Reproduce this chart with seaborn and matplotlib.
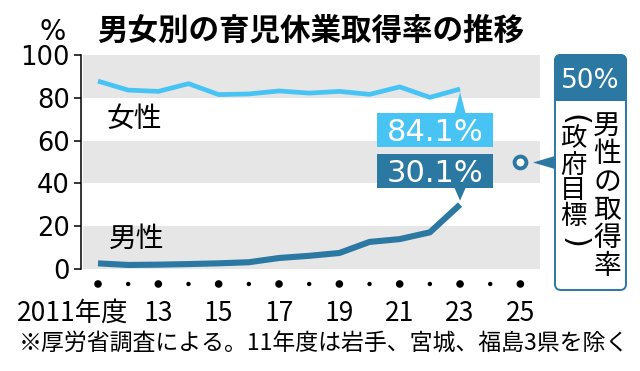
import matplotlib
matplotlib.use("Agg")
import matplotlib.pyplot as plt
import matplotlib.transforms as mtransforms
from matplotlib.patches import Rectangle, Polygon, FancyBboxPatch
import seaborn as sns
import pandas as pd

# ---- data ----
years = [2011, 2012, 2013, 2014, 2015, 2016, 2017, 2018, 2019, 2020, 2021, 2022, 2023]
female = [87.8, 83.6, 83.0, 86.6, 81.5, 81.8, 83.2, 82.2, 83.0, 81.6, 85.1, 80.2, 84.1]
male = [2.63, 1.89, 2.03, 2.30, 2.65, 3.16, 5.14, 6.16, 7.48, 12.65, 13.97, 17.13, 30.1]
goal_year = [2025]
goal_value = [50]
dot_years = list(range(2011, 2026))
xtick_years = [2011, 2013, 2015, 2017, 2019, 2021, 2023, 2025]
xtick_labels = ["2011年度", "13", "15", "17", "19", "21", "23", "25"]
yticks = [0, 20, 40, 60, 80, 100]
title = "男女別の育児休業取得率の推移"
footer = "※厚労省調査による。11年度は岩手、宮城、福島3県を除く"
female_label = "女性"
male_label = "男性"
goal_text = "50%"
goal_col1 = "男性の取得率"
goal_col2 = ["政", "府", "目", "標"]

LIGHT = "#48c4f4"
DARK = "#2b78a3"
GRAY = "#e6e6e6"

sns.set_style("white")
plt.rcParams["font.family"] = ["Noto Sans CJK JP", "DejaVu Sans"]

W, H = 640, 371
fig = plt.figure(figsize=(6.4, 3.71), dpi=100)
# reference-pixel transform (y down)
T = mtransforms.Affine2D().scale(1 / W, -1 / H).translate(0, 1) + fig.transFigure

ax = fig.add_axes([83 / W, 1 - 269 / H, (540 - 83) / W, (269 - 55) / H])
for lo, hi in [(0, 20), (40, 60), (80, 100)]:
    ax.axhspan(lo, hi, color=GRAY, lw=0, zorder=0)

df = pd.DataFrame({"year": years, "female": female, "male": male})
sns.lineplot(data=df, x="year", y="female", ax=ax, color=LIGHT, lw=3.4,
             solid_capstyle="butt", zorder=3)
sns.lineplot(data=df, x="year", y="male", ax=ax, color=DARK, lw=4.4,
             solid_capstyle="butt", zorder=3)

ax.set_xlim(2010.503, 2025.65)
ax.set_ylim(0, 100)
ax.set_xlabel("")
ax.set_ylabel("")
ax.set_xticks([])
ax.set_yticks(yticks)
for s in ["top", "right", "bottom"]:
    ax.spines[s].set_visible(False)
ax.spines["left"].set_visible(True)
ax.spines["left"].set_color("black")
ax.spines["left"].set_linewidth(1.1)
ax.spines["left"].set_position(("outward", 1.5))
ax.tick_params(axis="y", left=True, direction="out", length=5, width=1.1,
               color="black", pad=3, labelsize=18.5, labelcolor="black")
for lab in ax.get_yticklabels():
    lab.set_fontfamily("DejaVu Sans")

# dots under axis
sizes = [30 if y % 2 == 1 else 10 for y in dot_years]
ax.scatter(dot_years, [-7.0] * len(dot_years), s=sizes, color="black",
           clip_on=False, zorder=4, lw=0)

# x tick labels
for yr, lab in zip(xtick_years, xtick_labels):
    if yr == xtick_years[0]:
        ax.text(yr + 1.0, -20.6, lab, ha="right", va="center", fontsize=19,
                color="black", clip_on=False)
    else:
        ax.text(yr, -20.6, lab, ha="center", va="center", fontsize=19,
                color="black", clip_on=False)

# goal marker
ax.plot(goal_year, goal_value, marker="o", ms=8.5, mfc="white", mec=DARK,
        mew=2.8, ls="none", clip_on=False, zorder=5)

# series labels
ax.text(2012.19, 70.1, female_label, ha="center", va="center", fontsize=20, color="black")
ax.text(2012.29, 14.0, male_label, ha="center", va="center", fontsize=20, color="black")

fig.canvas.draw()


def D(x, y):
    px, py = ax.transData.transform((x, y))
    return px, H - py


def value_box(x, y, text, color, dy, up):
    px, py = D(x, y)
    cx, cy = px - 25, py + dy
    w, h = 116, 34
    fig.add_artist(Rectangle((cx - w / 2, cy - h / 2), w, h, transform=T,
                             facecolor=color, edgecolor="none", zorder=6))
    if up:
        base = cy - h / 2
        tip = py + 3
    else:
        base = cy + h / 2
        tip = py - 4
    fig.add_artist(Polygon([(px - 5.5, base), (px + 5.5, base), (px, tip)],
                           closed=True, transform=T, facecolor=color,
                           edgecolor="none", zorder=6))
    fig.text(cx, cy + 11, text, transform=T, ha="center", va="baseline",
             fontsize=22, color="white", family="DejaVu Sans", zorder=7)


value_box(years[-1], female[-1], f"{female[-1]:.1f}%", LIGHT, 41, True)
value_box(years[-1], male[-1], f"{male[-1]:.1f}%", DARK, -33.6, False)

# right callout
fig.add_artist(FancyBboxPatch((555, 55), 71, 235, boxstyle="round,pad=0,rounding_size=6",
                              transform=T, facecolor="white", edgecolor=DARK, lw=1.4, zorder=6))
fig.add_artist(FancyBboxPatch((555, 55), 71, 45, boxstyle="round,pad=0,rounding_size=6",
                              transform=T, facecolor=DARK, edgecolor=DARK, lw=1.4, zorder=6))
fig.add_artist(Rectangle((555, 85), 71, 15, transform=T, facecolor=DARK,
                         edgecolor=DARK, lw=1.4, zorder=6))
fig.text(590, 78 + 10, goal_text, transform=T, ha="center", va="baseline",
         fontsize=19, color="white", family="DejaVu Sans", zorder=7)
fig.add_artist(Polygon([(555, 156), (555, 169), (533, 162.5)], closed=True,
                       transform=T, facecolor=DARK, edgecolor="none", zorder=6))
for i, ch in enumerate(goal_col1):
    fig.text(607, 126 + 28 * i, ch, transform=T, ha="center", va="center",
             fontsize=20, color="black", zorder=7)
fig.text(574, 120, "(", transform=T, ha="center", va="center", rotation=-90,
         fontsize=22, color="black", family="DejaVu Sans", zorder=7)
for i, ch in enumerate(goal_col2):
    fig.text(573, 139 + 26 * i, ch, transform=T, ha="center", va="center",
             fontsize=19, color="black", zorder=7)
fig.text(574, 243, ")", transform=T, ha="center", va="center", rotation=-90,
         fontsize=22, color="black", family="DejaVu Sans", zorder=7)

# title, unit, footer
fig.text(311, 31, title, transform=T, ha="center", va="center", fontsize=22,
         fontweight="bold", color="black")
fig.text(53, 40, "%", transform=T, ha="center", va="baseline", fontsize=20,
         family="DejaVu Sans", color="black")
fig.text(19, 344, footer, transform=T, ha="left", va="center", fontsize=16.5,
         color="black")

fig.savefig("out.png", dpi=100, facecolor="white")
